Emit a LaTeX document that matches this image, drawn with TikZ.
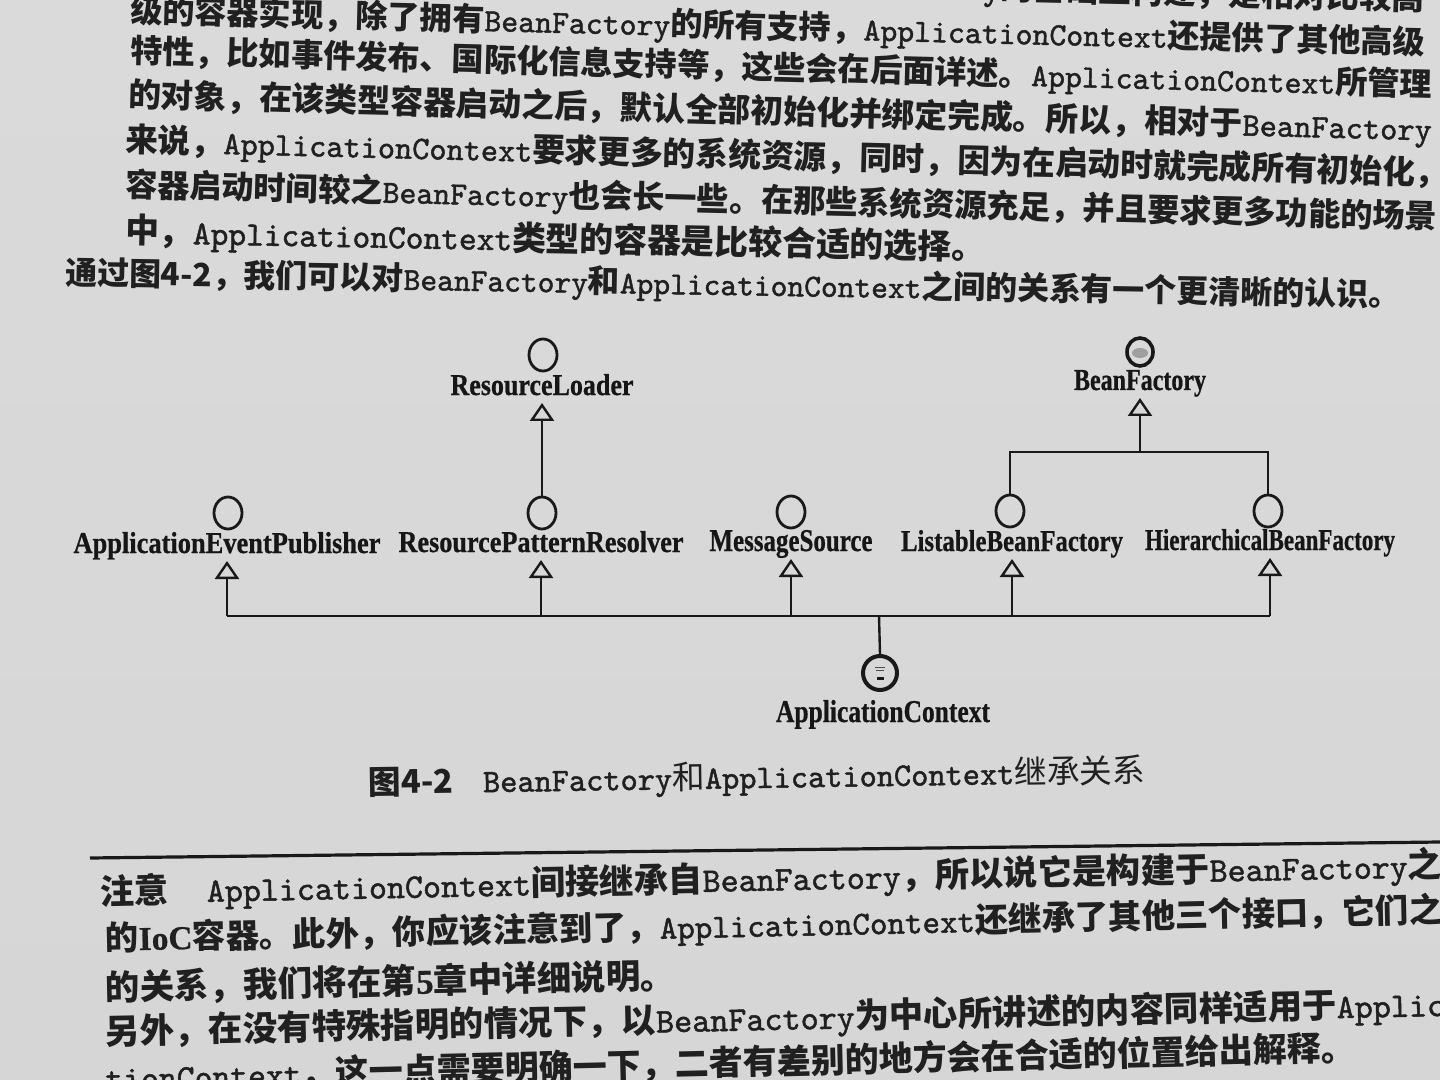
\documentclass[tikz,border=0pt]{standalone}
\usepackage{fontspec}
\usepackage{graphicx}
\usetikzlibrary{arrows.meta,shapes.geometric}
\newfontfamily\cjk{Noto Sans CJK SC}
\newfontfamily\lserif{Liberation Serif}[BoldFeatures={FakeBold=0.8}]
\newfontfamily\monob{lmmono10-regular.otf}[FakeBold=1.4]
\newcommand\mtt[1]{{\monob #1}}
\newcommand\mtr[1]{{\monob #1}}
\definecolor{txtc}{RGB}{32,32,32}
\definecolor{labc}{RGB}{22,22,22}
\definecolor{linec}{RGB}{25,25,25}
\definecolor{bgtop}{RGB}{218,218,218}
\definecolor{bgmid}{RGB}{194,194,194}
\definecolor{bgbot}{RGB}{214,214,214}
\begin{document}
\begin{tikzpicture}[x=0.5pt,y=-0.5pt,
  ln/.style={anchor=west, inner sep=0pt, text=txtc, font=\cjk\bfseries},
  lab/.style={font=\lserif\bfseries, inner sep=0pt, outer ysep=4pt, text depth=0pt, anchor=base, text=labc},
  ifc/.style={ellipse, draw=linec, line width=1.4pt, minimum width=14pt, minimum height=16pt, inner sep=0pt},
  conn/.style={draw=linec, line width=1.2pt},
  tri/.style={conn, -{Triangle[open, width=12pt, length=9pt]}}
]
\useasboundingbox (0,0) rectangle (1440,1080);
\begin{scope}
\clip (0,0) rectangle (1440,1080);
\shade[top color=bgtop, middle color=bgmid, bottom color=bgbot] (0,0) rectangle (1440,1080);
% body text above the figure
\node[ln, anchor=east, rotate=-1.41] (t0) at (1425,0) {\resizebox{647.5pt}{!}{\mtt{ApplicationContext}。\mtt{ApplicationContext}在\mtt{BeanFactory}的基础上构建，是相对比较高}};
\node[ln, rotate=-1.41] (t1) at (130,12) {\resizebox{647.7pt}{!}{级的容器实现，除了拥有\mtt{BeanFactory}的所有支持，\mtt{ApplicationContext}还提供了其他高级}};
\node[ln, rotate=-1.50] (t2) at (130,52) {\resizebox{651pt}{!}{特性，比如事件发布、国际化信息支持等，这些会在后面详述。\mtt{ApplicationContext}所管理}};
\node[ln, rotate=-1.49] (t3) at (128,96) {\resizebox{652pt}{!}{的对象，在该类型容器启动之后，默认全部初始化并绑定完成。所以，相对于\mtt{BeanFactory}}};
\node[ln, rotate=-1.43] (t4) at (125,141) {\resizebox{661.5pt}{!}{来说，\mtt{ApplicationContext}要求更多的系统资源，同时，因为在启动时就完成所有初始化，}};
\node[ln, rotate=-1.40] (t5) at (125,186) {\resizebox{656pt}{!}{容器启动时间较之\mtt{BeanFactory}也会长一些。在那些系统资源充足，并且要求更多功能的场景}};
\node[ln, rotate=-1.10] (t6) at (125,232) {\resizebox{430pt}{!}{中，\mtt{ApplicationContext}类型的容器是比较合适的选择。}};
\node[ln, rotate=-0.94] (t7) at (65,274) {\resizebox{667.5pt}{!}{通过图4-2，我们可以对\mtt{BeanFactory}和\mtt{ApplicationContext}之间的关系有一个更清晰的认识。}};
% caption
\node[ln, font=\cjk, rotate=0.88] (cap) at (368,784) {\resizebox{388.5pt}{!}{{\bfseries 图4-2}\hspace{0.9em}\mtr{BeanFactory}和\mtr{ApplicationContext}继承关系}};
% rule
\coordinate (ruleL) at (90,858);
\coordinate (ruleR) at (1440,842);
\draw[linec, line width=1.6pt] (ruleL) -- (ruleR);
% note text
\node[ln, rotate=1.15] (n1) at (100,893) {\resizebox{671pt}{!}{注意\hspace{1.1em}\mtt{ApplicationContext}间接继承自\mtt{BeanFactory}，所以说它是构建于\mtt{BeanFactory}之}};
\node[ln, rotate=1.24] (n2) at (105,940) {\resizebox{668.5pt}{!}{的{\lserif IoC}容器。此外，你应该注意到了，\mtt{ApplicationContext}还继承了其他三个接口，它们之}};
\node[ln, rotate=1.2] (n3) at (105,988) {\resizebox{285pt}{!}{的关系，我们将在第{\lserif 5}章中详细说明。}};
\node[ln, rotate=1.2] (n4) at (105,1033) {\resizebox{670pt}{!}{另外，在没有特殊指明的情况下，以\mtt{BeanFactory}为中心所讲述的内容同样适用于\mtt{Applic}}};
\node[ln, rotate=1.37] (n5) at (105,1078) {\resizebox{625pt}{!}{\mtt{tionContext}，这一点需要明确一下，二者有差别的地方会在合适的位置给出解释。}};
\end{scope}

% ---------- diagram ----------
% labels
\node[lab] (l_rl)  at (542,395) {\resizebox{91.5pt}{10.5pt}{ResourceLoader}};
\node[lab] (l_bf)  at (1140,390) {\resizebox{66pt}{10pt}{BeanFactory}};
\node[lab] (l_aep) at (227,553) {\resizebox{153.5pt}{10.5pt}{ApplicationEventPublisher}};
\node[lab] (l_rpr) at (541,552) {\resizebox{142.5pt}{10.5pt}{ResourcePatternResolver}};
\node[lab] (l_ms)  at (791,551) {\resizebox{81.5pt}{10.5pt}{MessageSource}};
\node[lab] (l_lbf) at (1012,551) {\resizebox{111pt}{10.5pt}{ListableBeanFactory}};
\node[lab] (l_hbf) at (1270,550) {\resizebox{125pt}{10.5pt}{HierarchicalBeanFactory}};
\node[lab] (l_ac)  at (883,722) {\resizebox{107pt}{11pt}{ApplicationContext}};
% interface circles
\node[ifc] (c_rl)  at (543,355) {};
\node[ifc, line width=1.8pt, minimum width=13pt, minimum height=14pt] (c_bf) at (1140,352) {};
\node[ifc] (c_aep) at (228,513) {};
\node[ifc] (c_rpr) at (542,513) {};
\node[ifc] (c_ms)  at (791,512) {};
\node[ifc] (c_lbf) at (1010,511) {};
\node[ifc] (c_hbf) at (1268,511) {};
\node[ifc, line width=2pt, minimum width=17pt, minimum height=17pt] (c_ac) at (880,673) {};
% small marks inside the circles
\fill[gray!75] (1140,353) ellipse [x radius=8, y radius=5];
\fill[linec] (877,677) rectangle (884,680);
\draw[gray!60!black, line width=0.4pt] (875,667) -- (885,667) (876,670) -- (884,670);
% connectors
\draw[tri] (c_rpr.north) -- (c_rpr.north |- l_rl.south);
\coordinate (jn) at (1140,452);
\draw[conn] (c_lbf.north) -- (c_lbf.north |- jn) -- (c_hbf.north |- jn) -- (c_hbf.north);
\draw[tri] (jn) -- (jn |- l_bf.south);
\coordinate (bus) at (879,616);
\draw[conn] (c_ac.north) -- (bus);
\draw[conn] (bus -| l_aep.south) -- (bus -| l_hbf.south);
\draw[tri] (bus -| l_aep.south) -- (l_aep.south);
\draw[tri] (bus -| l_rpr.south) -- (l_rpr.south);
\draw[tri] (bus -| l_ms.south) -- (l_ms.south);
\draw[tri] (bus -| l_lbf.south) -- (l_lbf.south);
\draw[tri] (bus -| l_hbf.south) -- (l_hbf.south);
\end{tikzpicture}
\end{document}
